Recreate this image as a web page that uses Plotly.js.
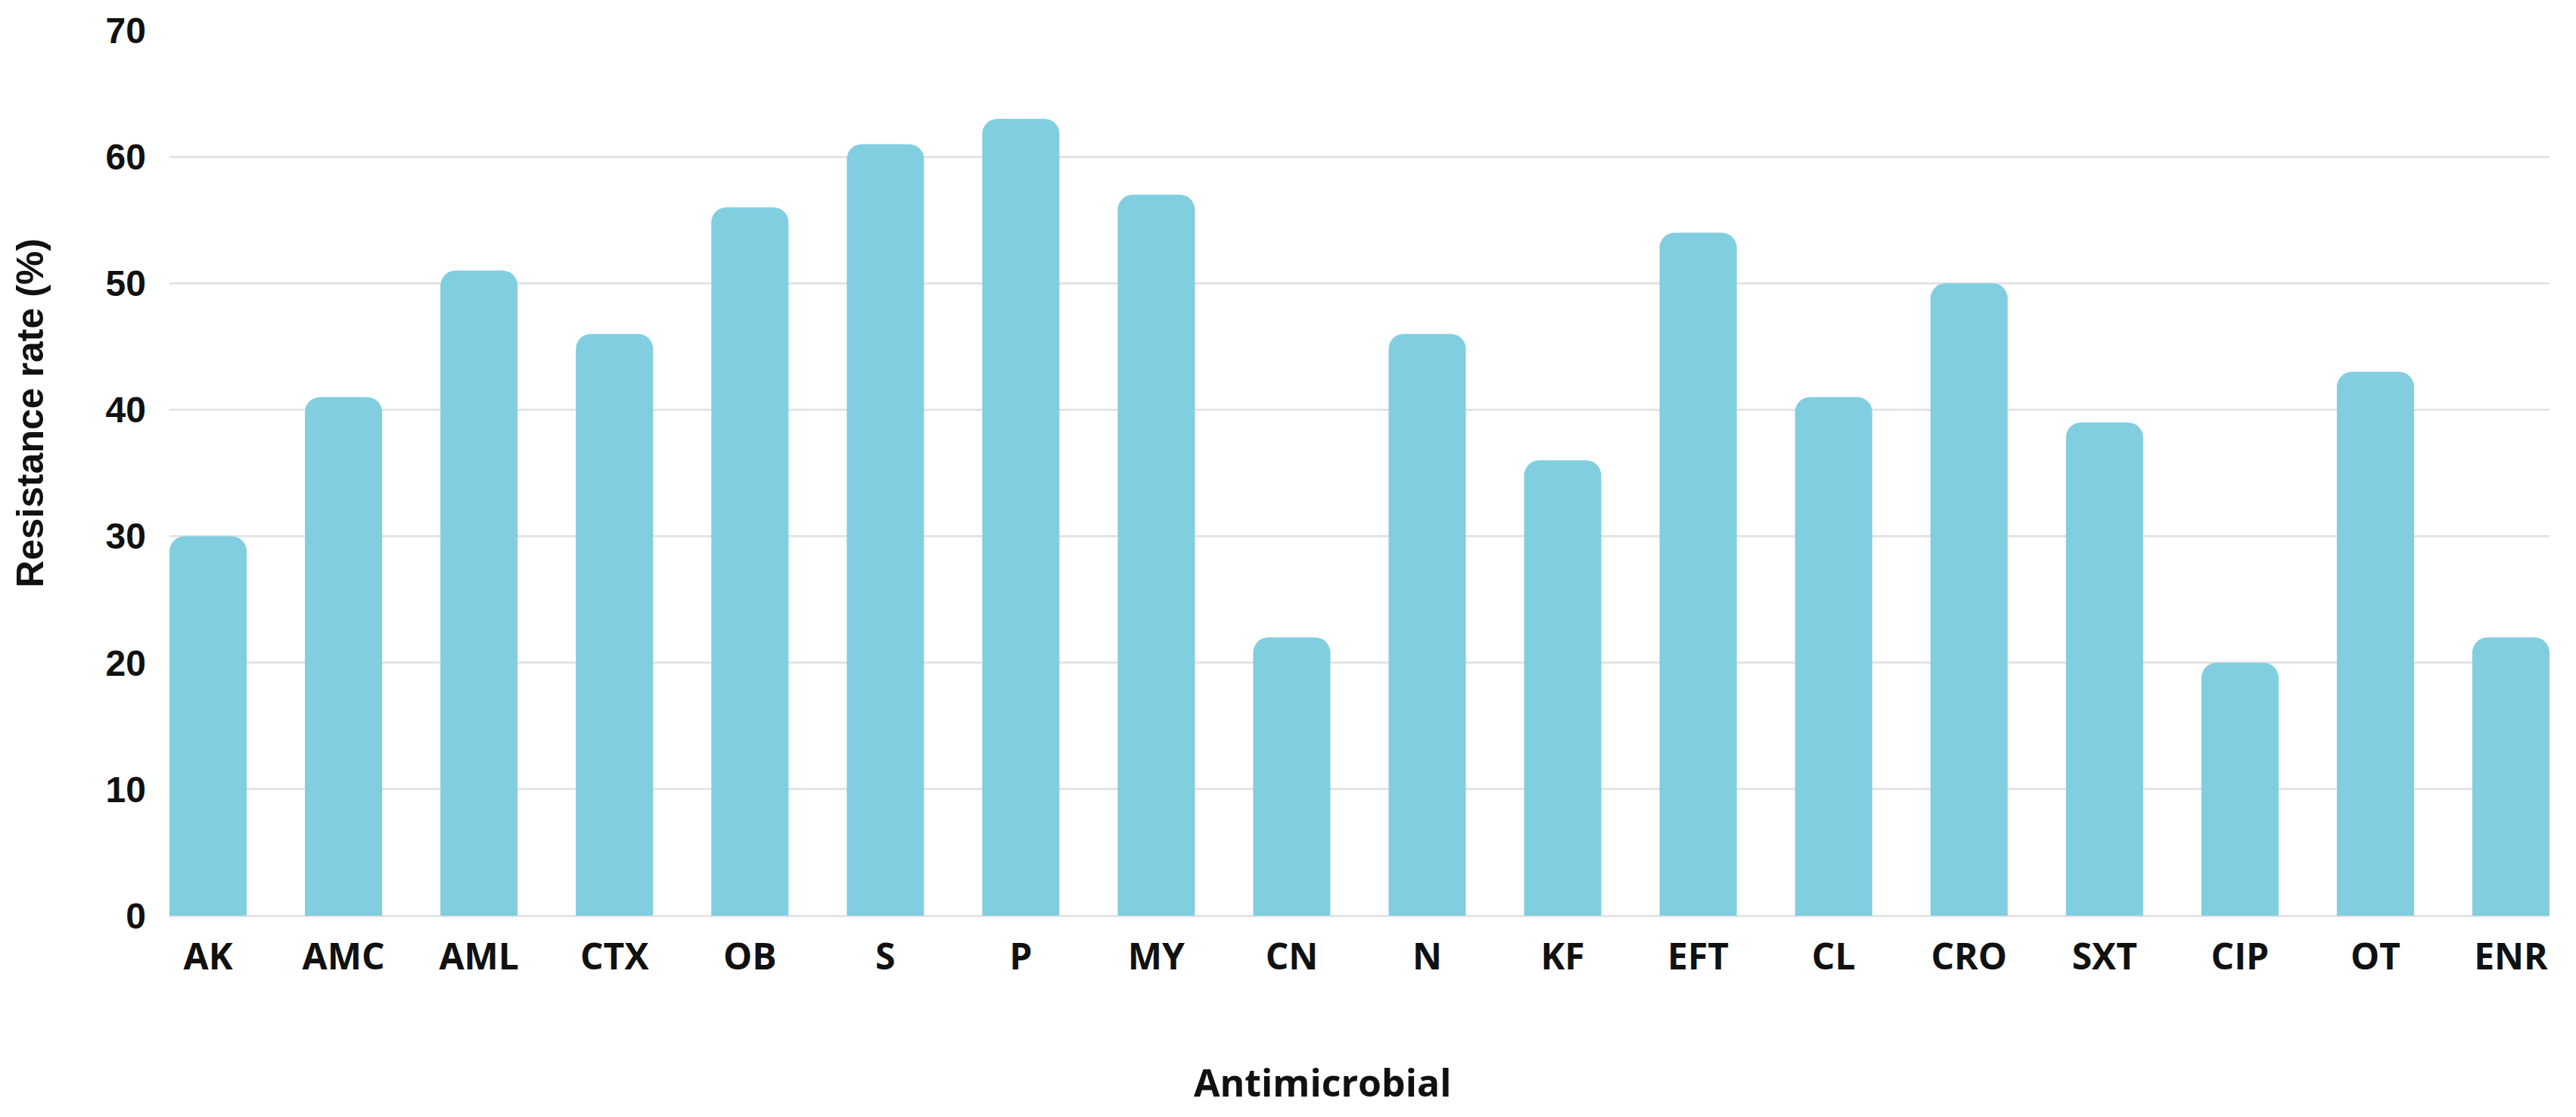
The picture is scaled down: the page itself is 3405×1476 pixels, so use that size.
<!DOCTYPE html>
<html>
<head>
<meta charset="utf-8">
<script src="https://cdn.plot.ly/plotly-3.0.1.min.js"></script>
<style>html,body{margin:0;padding:0;background:#fff;}#chart{width:3405px;height:1476px;}</style>
</head>
<body>
<div id="chart"></div>
<script>
const antimicrobials = ["AK","AMC","AML","CTX","OB","S","P","MY","CN","N","KF","EFT","CL","CRO","SXT","CIP","OT","ENR"];
const resistanceRate = [30,41,51,46,56,61,63,57,22,46,36,54,41,50,39,20,43,22];
const yTicks = [0,10,20,30,40,50,60,70];

const trace = {
  type: "bar",
  x: antimicrobials,
  y: resistanceRate,
  marker: {color: "#81CEE1", cornerradius: 20},
  hoverinfo: "x+y"
};

const layout = {
  width: 3405,
  height: 1476,
  margin: {l: 224, r: 35, t: 40, b: 266},
  paper_bgcolor: "#ffffff",
  plot_bgcolor: "#ffffff",
  bargap: 0.43,
  showlegend: false,
  xaxis: {
    type: "category",
    range: [-0.285, 17.285],
    showgrid: false,
    showline: false,
    zeroline: false,
    ticks: "",
    ticklabelstandoff: 22,
    tickfont: {family: "Open Sans, sans-serif", size: 48, color: "#111111", weight: 700}
  },
  yaxis: {
    range: [0, 70],
    tickvals: yTicks,
    ticktext: yTicks.map(String),
    showgrid: true,
    gridcolor: "#e4e4e4",
    gridwidth: 3,
    zeroline: true,
    zerolinecolor: "#e4e4e4",
    zerolinewidth: 3,
    showline: false,
    ticks: "",
    ticklabelstandoff: 30,
    tickfont: {family: "Liberation Sans, Arial, sans-serif", size: 48, color: "#111111", weight: 700}
  },
  annotations: [
    {
      text: "Resistance rate (%)",
      xref: "paper", yref: "paper",
      x: -0.0585, y: 0.568,
      xanchor: "center", yanchor: "middle",
      textangle: -90,
      showarrow: false,
      font: {family: "Liberation Sans, Arial, sans-serif", size: 50, color: "#111111", weight: 700}
    },
    {
      text: "Antimicrobial",
      xref: "paper", yref: "paper",
      x: 0.4845, y: -0.188,
      xanchor: "center", yanchor: "middle",
      showarrow: false,
      font: {family: "Open Sans, sans-serif", size: 50, color: "#111111", weight: 700}
    }
  ]
};

Plotly.newPlot("chart", [trace], layout, {displayModeBar: false, staticPlot: true});
</script>
</body>
</html>
